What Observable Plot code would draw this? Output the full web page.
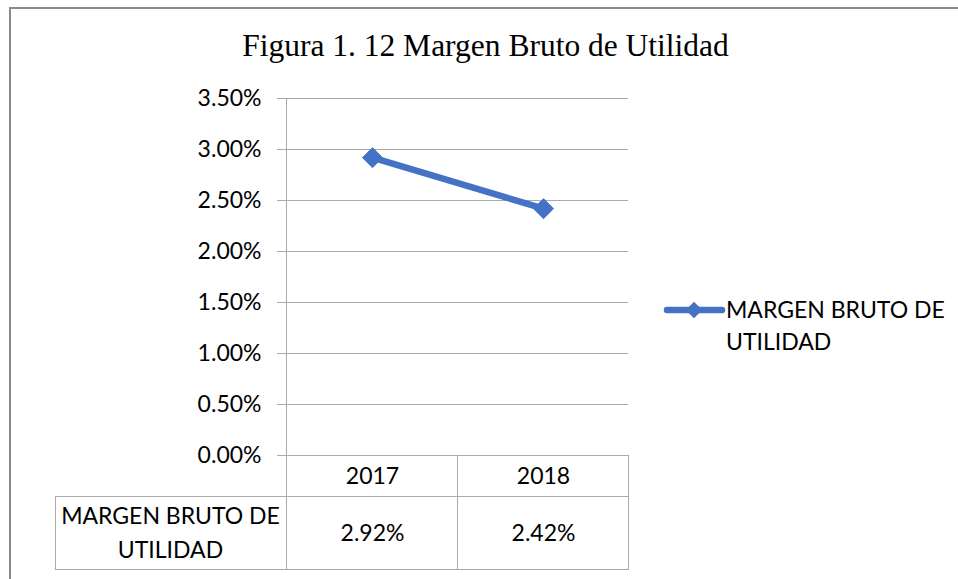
<!DOCTYPE html>
<html>
<head>
<meta charset="utf-8">
<script src="https://cdn.jsdelivr.net/npm/d3@7"></script>
<script src="https://cdn.jsdelivr.net/npm/@observablehq/plot@0.6"></script>
<style>
  html, body { margin: 0; padding: 0; background: #fff; }
  #wrap { position: relative; width: 958px; height: 579px; overflow: hidden; }
  #title { position: absolute; left: 0; top: 30px; width: 971px; text-align: center; line-height: 1;
           font-family: "Liberation Serif", "Times New Roman", serif; font-size: 31.5px; color: #000; }
  #chart { position: absolute; left: 0; top: 0; }
</style>
</head>
<body>
<div id="wrap">
  <div id="chart"></div>
  <div id="title">Figura 1. 12 Margen Bruto de Utilidad</div>
</div>
<script>
const titleText = "Figura 1. 12 Margen Bruto de Utilidad";
const seriesName = "MARGEN BRUTO DE UTILIDAD";
const tableRowLabel = ["MARGEN BRUTO DE", "UTILIDAD"];
const legendLines = ["MARGEN BRUTO DE", "UTILIDAD"];
const years = ["2017", "2018"];
const values = [0.0292, 0.0242];
const yTicks = [0, 0.005, 0.01, 0.015, 0.02, 0.025, 0.03, 0.035];

const data = years.map((year, i) => ({year, value: values[i]}));
const pct = d3.format(".2%");
const blue = "#4472C4";
const grid = "#a9a9a9";
const font = "Lato, 'Open Sans', sans-serif";

const chart = Plot.plot({
  width: 958,
  height: 579,
  marginLeft: 286,
  marginRight: 330,
  marginTop: 98,
  marginBottom: 124,
  style: {fontFamily: font, fontSize: "23px", color: "#000", background: "transparent", overflow: "visible"},
  x: {type: "point", domain: years, padding: 0.5, axis: null},
  y: {domain: [0, 0.035], axis: null},
  marks: [
    Plot.ruleY(yTicks, {y: d => d, stroke: grid, strokeWidth: 1, insetLeft: -9}),
    Plot.text(yTicks, {y: d => d, text: d => pct(d), frameAnchor: "left", textAnchor: "end", lineAnchor: "middle", dx: -25, fontSize: 23, fill: "#000"}),
    Plot.line(data, {x: "year", y: "value", stroke: blue, strokeWidth: 6.5}),
    Plot.dot(data, {x: "year", y: "value", symbol: "diamond2", r: 9, fill: blue, stroke: blue, strokeWidth: 1}),
    // data table below the axis
    Plot.text(data, {x: "year", text: "year", frameAnchor: "bottom", lineAnchor: "middle", dy: 21, fontSize: 23, fill: "#000"}),
    Plot.text(data, {x: "year", text: d => pct(d.value), frameAnchor: "bottom", lineAnchor: "middle", dy: 78, fontSize: 23, fill: "#000"}),
    Plot.text([tableRowLabel[0]], {text: d => d, frameAnchor: "bottom-left", textAnchor: "middle", lineAnchor: "middle", dx: -116, dy: 61, fontSize: 23, fill: "#000"}),
    Plot.text([tableRowLabel[1]], {text: d => d, frameAnchor: "bottom-left", textAnchor: "middle", lineAnchor: "middle", dx: -116, dy: 95, fontSize: 23, fill: "#000"})
  ]
});

document.getElementById("chart").appendChild(chart);

// structural lines (table grid, axis line, outer border, legend) from the scales
const sx = chart.scale("x");
const sy = chart.scale("y");
const x0 = sx.apply(years[0]);
const x1 = sx.apply(years[years.length - 1]);
const step = (x1 - x0) / (years.length - 1);
const left = x0 - step / 2;
const right = x1 + step / 2;
const yZero = sy.apply(0);
const yTop = sy.apply(0.035);
const rowH1 = 41, rowH2 = 73, labelLeft = 55;

const svg = d3.select(chart);
const g = svg.append("g").attr("stroke", grid).attr("stroke-width", 1).attr("fill", "none").attr("shape-rendering", "crispEdges");
// vertical axis line extends through the table
g.append("line").attr("x1", left).attr("x2", left).attr("y1", yTop).attr("y2", yZero + rowH1 + rowH2);
// column dividers
for (let i = 1; i <= years.length; i++) {
  const xv = left + step * i;
  g.append("line").attr("x1", xv).attr("x2", xv).attr("y1", yZero).attr("y2", yZero + rowH1 + rowH2);
}
// row dividers
g.append("line").attr("x1", labelLeft).attr("x2", right).attr("y1", yZero + rowH1).attr("y2", yZero + rowH1);
g.append("line").attr("x1", labelLeft).attr("x2", right).attr("y1", yZero + rowH1 + rowH2).attr("y2", yZero + rowH1 + rowH2);
g.append("line").attr("x1", labelLeft).attr("x2", labelLeft).attr("y1", yZero + rowH1).attr("y2", yZero + rowH1 + rowH2);

// outer chart border (top and left visible)
const b = svg.append("g").attr("stroke", "#8a8a8a").attr("stroke-width", 2).attr("fill", "none");
b.append("line").attr("x1", 10).attr("x2", 958).attr("y1", 8).attr("y2", 8);
b.append("line").attr("x1", 10).attr("x2", 10).attr("y1", 7).attr("y2", 579);

// legend
const lg = svg.append("g").attr("transform", `translate(667,${yTop + 212})`);
lg.append("line").attr("x1", 0).attr("x2", 55).attr("y1", 0).attr("y2", 0).attr("stroke", blue).attr("stroke-width", 6.5).attr("stroke-linecap", "round");
lg.append("path").attr("d", d3.symbol(d3.symbolDiamond2, Math.PI * 7.5 * 7.5)()).attr("transform", "translate(27,0)").attr("fill", blue);
lg.selectAll("text").data(legendLines).join("text")
  .attr("x", 59).attr("y", (d, i) => i * 32)
  .attr("dy", "0.36em")
  .attr("text-anchor", "start")
  .attr("font-family", font).attr("font-size", 23).attr("fill", "#000")
  .text(d => d);
</script>
</body>
</html>
